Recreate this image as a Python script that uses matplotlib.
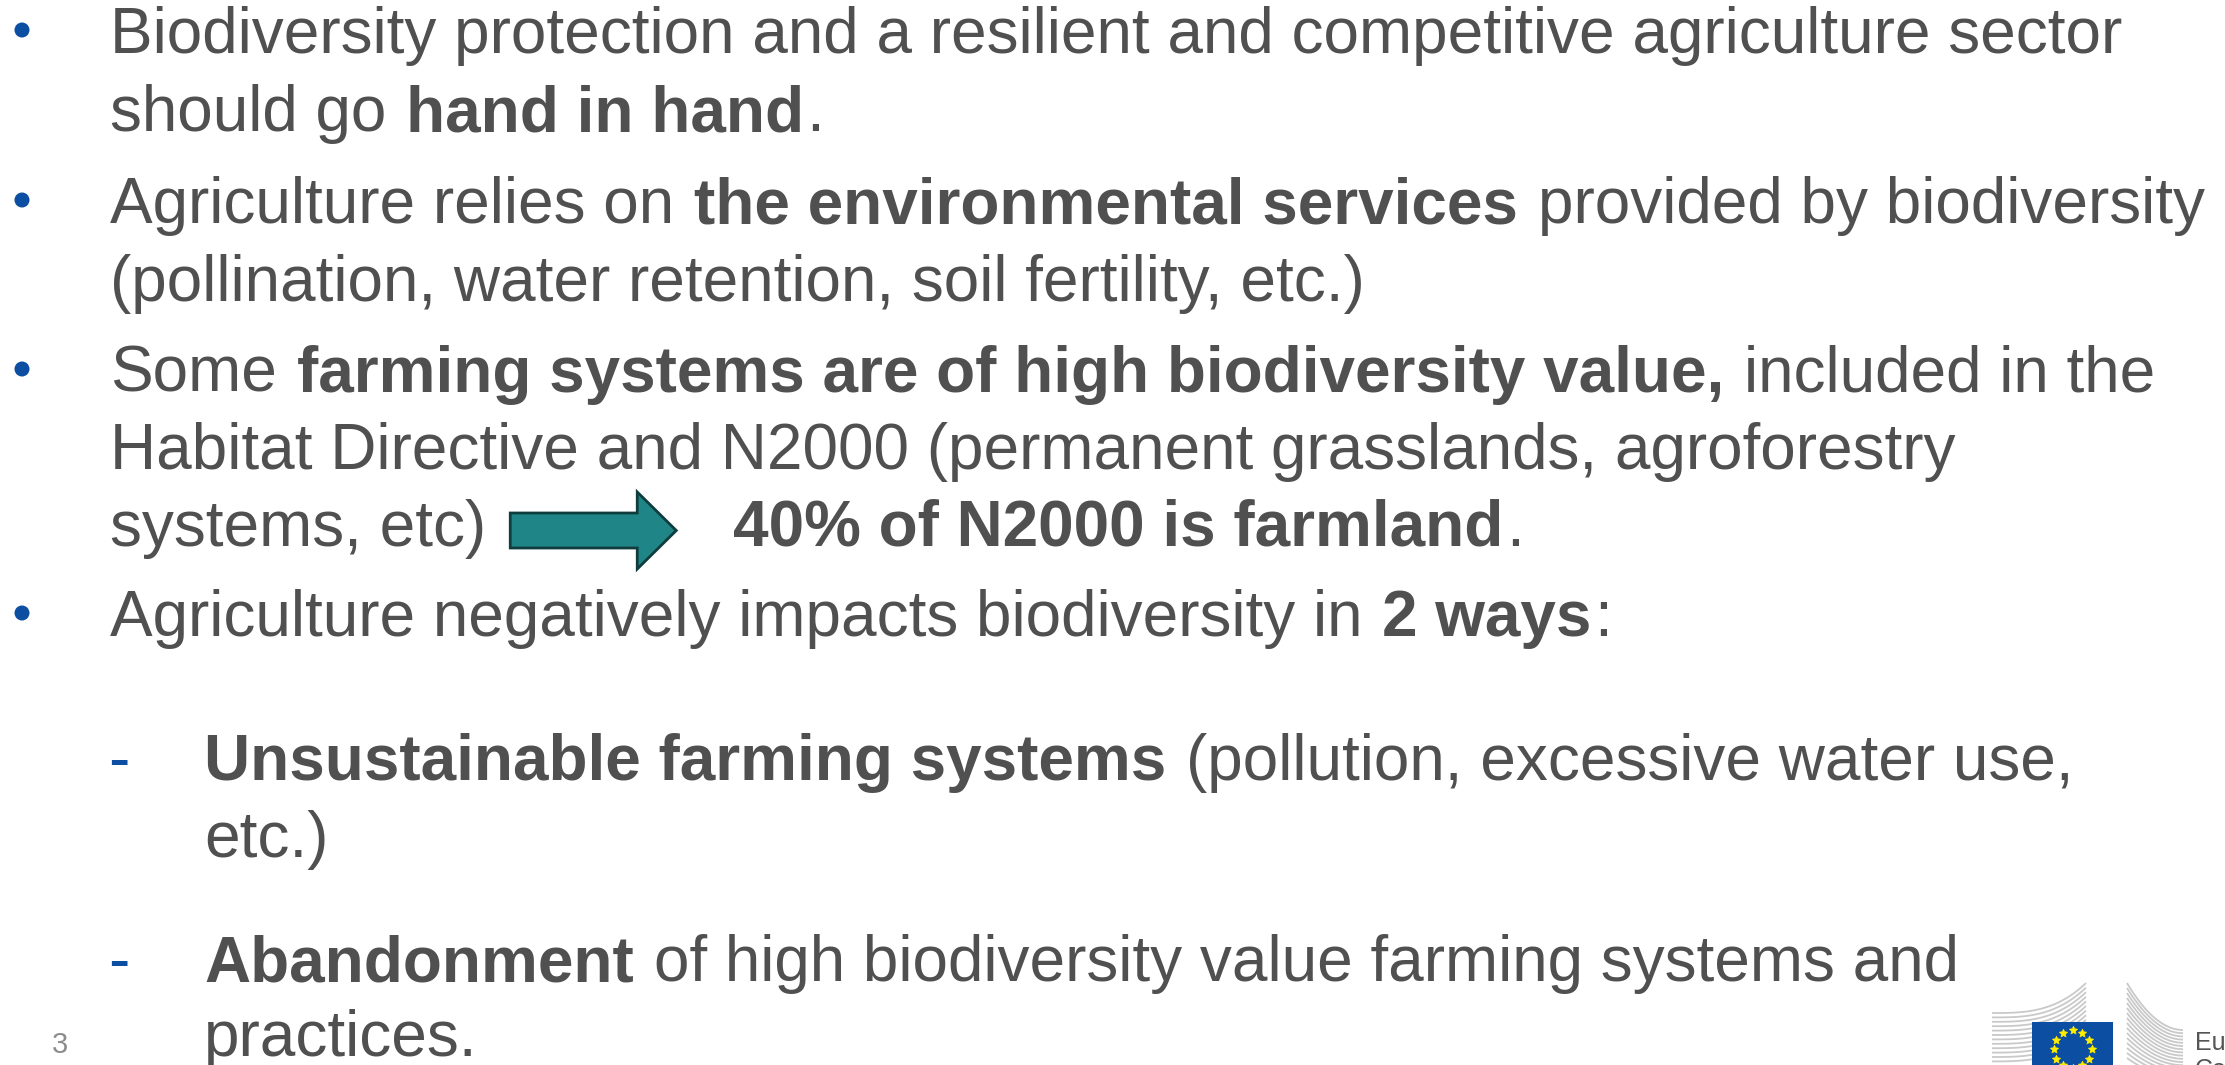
import matplotlib
matplotlib.use("Agg")
import matplotlib.pyplot as plt
from matplotlib.patches import Polygon, Rectangle, Circle
import numpy as np

W, H, DPI = 2225, 1065, 100

FONT = "Liberation Sans"
TEXT_COLOR = "#505050"
BLUE = "#0b4ea2"
FS = 46            # body font size (pt)
ARROW = "<ARROW>"

# ---------------- slide content ----------------
line_markers = ["•", "", "•", "", "•", "", "", "•", "-", "", "-", ""]
line_indents = [110, 110, 110, 110, 110, 110, 110, 110, 204, 204, 204, 204]
line_baselines = [53, 131, 223, 301, 392, 469, 546, 636, 780, 857, 981, 1056]
line_segments = [
    [("Biodiversity protection and a resilient and competitive agriculture sector", False)],
    [("should go ", False), ("hand in hand", True), (".", False)],
    [("Agriculture relies on ", False), ("the environmental services", True),
     (" provided by biodiversity", False)],
    [("(pollination, water retention, soil fertility, etc.)", False)],
    [("Some ", False), ("farming systems are of high biodiversity value,", True),
     (" included in the", False)],
    [("Habitat Directive and N2000 (permanent grasslands, agroforestry", False)],
    [("systems, etc)", False), (ARROW, None), ("40% of N2000 is farmland", True), (".", False)],
    [("Agriculture negatively impacts biodiversity in ", False), ("2 ways", True), (":", False)],
    [("Unsustainable farming systems", True), (" (pollution, excessive water use,", False)],
    [("etc.)", False)],
    [("Abandonment", True), (" of high biodiversity value farming systems and", False)],
    [("practices.", False)],
]
page_number = "3"
logo_text = ["European", "Commission"]

# ---------------- figure ----------------
fig = plt.figure(figsize=(W / DPI, H / DPI), dpi=DPI)
fig.patch.set_facecolor("white")
ax = fig.add_axes([0, 0, 1, 1])
ax.set_xlim(0, W)
ax.set_ylim(H, 0)
ax.set_aspect("auto")
ax.axis("off")
fig.canvas.draw()
renderer = fig.canvas.get_renderer()

space_w = 0.278 * FS * DPI / 72.0


def draw_arrow(x_start, baseline):
    # block arrow sitting in the text line
    x0 = x_start + 22
    length = 166
    shaft_half = 17.5
    head_half = 38.5
    head_len = 39
    yc = baseline - 15.5
    pts = [
        (x0, yc - shaft_half), (x0 + length - head_len, yc - shaft_half),
        (x0 + length - head_len, yc - head_half), (x0 + length, yc),
        (x0 + length - head_len, yc + head_half), (x0 + length - head_len, yc + shaft_half),
        (x0, yc + shaft_half),
    ]
    ax.add_patch(Polygon(pts, closed=True, facecolor="#208587", edgecolor="#0f3d3d",
                         linewidth=2.0, joinstyle="miter"))
    return x0 + length + 57


for marker, x0, y, segs in zip(line_markers, line_indents, line_baselines, line_segments):
    if marker == "•":
        ax.add_patch(Circle((22, y - 23), 7.5, facecolor=BLUE, edgecolor="none"))
    elif marker == "-":
        ax.text(108, y, "-", fontsize=FS, color=BLUE, family=FONT, va="baseline", ha="left")
    x = x0
    for s, bold in segs:
        if s == ARROW:
            x = draw_arrow(x, y)
            continue
        lead = len(s) - len(s.lstrip(" "))
        trail = len(s) - len(s.rstrip(" "))
        x += lead * space_w
        core = s.strip(" ")
        t = ax.text(x, y, core, fontsize=FS, color=TEXT_COLOR, family=FONT,
                    fontweight="bold" if bold else "normal", va="baseline", ha="left")
        bb = t.get_window_extent(renderer)
        x = bb.x1 + trail * space_w + 2

# page number
ax.text(52, 1053, page_number, fontsize=21, color="#8c8c8c", family=FONT, va="baseline", ha="left")

# ---------------- EC logo (partial, bottom-right) ----------------
gray = "#c9c9c9"
for i in range(12):
    xs = np.linspace(1992, 2086, 60)
    yl = 1013 + 4.4 * i
    yr = 983 + 4.6 * i
    u = (xs - 1992) / (2086 - 1992)
    ys = yl + (yr - yl) * u ** 3
    ax.plot(xs, ys, color=gray, lw=1.3, solid_capstyle="butt")
for i in range(16):
    xs = np.linspace(2127, 2183, 40)
    yl = 983 + 5.0 * i
    yr = 1030 + 3.2 * i
    u = (xs - 2127) / (2183 - 2127)
    ys = yl + (yr - yl) * (1 - (1 - u) ** 2)
    ax.plot(xs, ys, color=gray, lw=1.3, solid_capstyle="butt")
ax.add_patch(Rectangle((2032, 1022), 81, 60, facecolor="#0b4ea2", edgecolor="none", zorder=3))
for k in range(12):
    ang = np.pi / 2 - k * 2 * np.pi / 12
    sx = 2072.5 + 19 * np.cos(ang)
    sy = 1049 - 19 * np.sin(ang)
    ax.plot(sx, sy, marker=(5, 1, 0), ms=6.5, color="#ffed00", mec="#ffed00", mew=0.3, zorder=4)
ax.text(2195, 1050, logo_text[0], fontsize=18, color="#555555", family=FONT, va="baseline", ha="left")
ax.text(2195, 1077, logo_text[1], fontsize=18, color="#555555", family=FONT, va="baseline", ha="left")

fig.savefig("out.png", dpi=DPI, facecolor="white")
